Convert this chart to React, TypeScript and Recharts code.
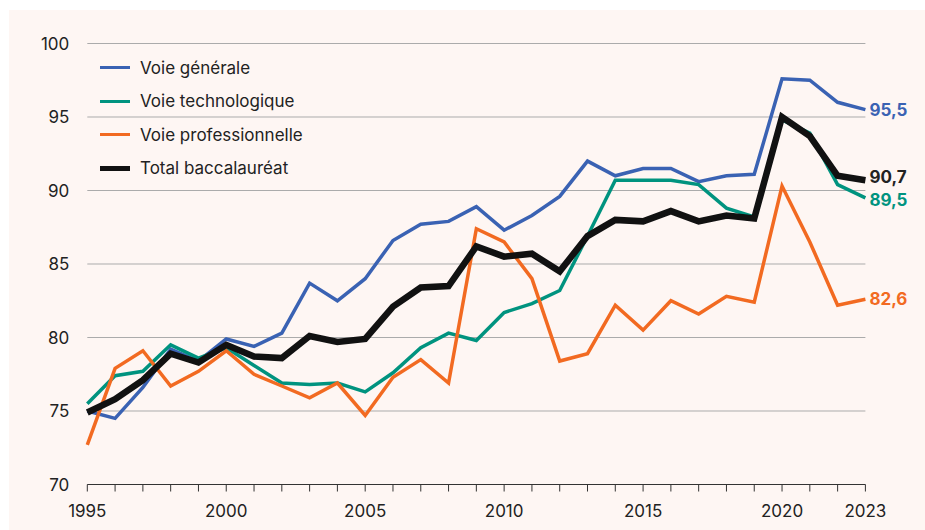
import { LineChart, Line, XAxis, YAxis, CartesianGrid } from "recharts";

const years = [
  1995, 1996, 1997, 1998, 1999, 2000, 2001, 2002, 2003, 2004, 2005, 2006, 2007, 2008, 2009,
  2010, 2011, 2012, 2013, 2014, 2015, 2016, 2017, 2018, 2019, 2020, 2021, 2022, 2023,
];
const voieGenerale = [
  75.0, 74.5, 76.6, 79.2, 78.4, 79.9, 79.4, 80.3, 83.7, 82.5, 84.0, 86.6, 87.7, 87.9, 88.9,
  87.3, 88.3, 89.6, 92.0, 91.0, 91.5, 91.5, 90.6, 91.0, 91.1, 97.6, 97.5, 96.0, 95.5,
];
const voieTechno = [
  75.5, 77.4, 77.7, 79.5, 78.6, 79.3, 78.1, 76.9, 76.8, 76.9, 76.3, 77.6, 79.3, 80.3, 79.8,
  81.7, 82.3, 83.2, 86.9, 90.7, 90.7, 90.7, 90.4, 88.8, 88.2, 94.8, 93.9, 90.4, 89.5,
];
const voiePro = [
  72.7, 77.9, 79.1, 76.7, 77.7, 79.1, 77.5, 76.7, 75.9, 76.9, 74.7, 77.3, 78.5, 76.9, 87.4,
  86.5, 84.0, 78.4, 78.9, 82.2, 80.5, 82.5, 81.6, 82.8, 82.4, 90.3, 86.5, 82.2, 82.6,
];
const totalBac = [
  74.9, 75.8, 77.1, 78.9, 78.3, 79.5, 78.7, 78.6, 80.1, 79.7, 79.9, 82.1, 83.4, 83.5, 86.2,
  85.5, 85.7, 84.5, 86.9, 88.0, 87.9, 88.6, 87.9, 88.3, 88.1, 95.0, 93.7, 91.0, 90.7,
];
const yTicks = [70, 75, 80, 85, 90, 95, 100];
const labeledYears = [1995, 2000, 2005, 2010, 2015, 2020, 2023];

const FONT = "Inter, 'Open Sans', sans-serif";

const series = [
  { key: "gen", name: "Voie générale", color: "#3a62b3", width: 3.5, values: voieGenerale, dy: 0, labelColor: "#3a62b3" },
  { key: "tech", name: "Voie technologique", color: "#00937f", width: 3.5, values: voieTechno, dy: 2, labelColor: "#00937f" },
  { key: "pro", name: "Voie professionnelle", color: "#f26a21", width: 3.5, values: voiePro, dy: 0, labelColor: "#f26a21" },
  { key: "total", name: "Total baccalauréat", color: "#111111", width: 6.5, values: totalBac, dy: -3, labelColor: "#222222" },
];

const data = years.map((year, i) => {
  const row: Record<string, number> = { year };
  series.forEach((s) => {
    row[s.key] = s.values[i];
  });
  return row;
});

const lastIndex = years.length - 1;

function endLabel(color: string, dy: number) {
  return (props: any) => {
    const { x, y, index, value } = props;
    if (index !== lastIndex) return null;
    return (
      <text
        x={x + 4}
        y={y + dy}
        dy="0.36em"
        fill={color}
        fontSize={17}
        fontWeight={700}
        fontFamily={FONT}
        textAnchor="start"
      >
        {Number(value).toFixed(1).replace(".", ",")}
      </text>
    );
  };
}

// legend drawn as an overlay so it doesn't eat into the plot area
function LegendBox() {
  return (
    <div
      style={{
        position: "absolute",
        left: 91,
        top: 41,
        fontFamily: FONT,
        fontSize: 17,
        color: "#222",
        pointerEvents: "none",
      }}
    >
      {series.map((s) => (
        <div key={s.key} style={{ display: "flex", alignItems: "center", height: 33.5 }}>
          <div style={{ width: 30, height: s.key === "total" ? 5 : 3, background: s.color, marginRight: 10 }} />
          <span>{s.name}</span>
        </div>
      ))}
    </div>
  );
}

export default function App() {
  return (
    <div style={{ position: "absolute", left: 0, top: 0, width: 925, height: 530, background: "#ffffff" }}>
      <div
        style={{
          position: "absolute",
          left: 9,
          top: 10,
          width: 916,
          height: 520,
          background: "#fef6f3",
          fontFamily: FONT,
        }}
      >
        <LineChart width={916} height={520} data={data} margin={{ top: 33.5, right: 59.6, bottom: 15.5, left: 18.3 }}>
          <CartesianGrid vertical={false} stroke="#ababab" strokeWidth={1} />
          <XAxis
            dataKey="year"
            type="number"
            domain={[1995, 2023]}
            ticks={years}
            interval={0}
            height={30}
            tickSize={7}
            tickMargin={13}
            axisLine={{ stroke: "#333" }}
            tickLine={{ stroke: "#333" }}
            tick={{ fill: "#222", fontSize: 17, fontFamily: FONT }}
            tickFormatter={(v: number) => (labeledYears.includes(v) ? String(v) : "")}
          />
          <YAxis
            domain={[70, 100]}
            ticks={yTicks}
            width={60}
            axisLine={false}
            tickLine={false}
            tickSize={0}
            tickMargin={18}
            tick={{ fill: "#222", fontSize: 17, fontFamily: FONT }}
          />
          {series.map((s) => (
            <Line
              key={s.key}
              dataKey={s.key}
              name={s.name}
              stroke={s.color}
              strokeWidth={s.width}
              dot={false}
              activeDot={false}
              isAnimationActive={false}
              label={endLabel(s.labelColor, s.dy)}
            />
          ))}
        </LineChart>
        <LegendBox />
      </div>
    </div>
  );
}
